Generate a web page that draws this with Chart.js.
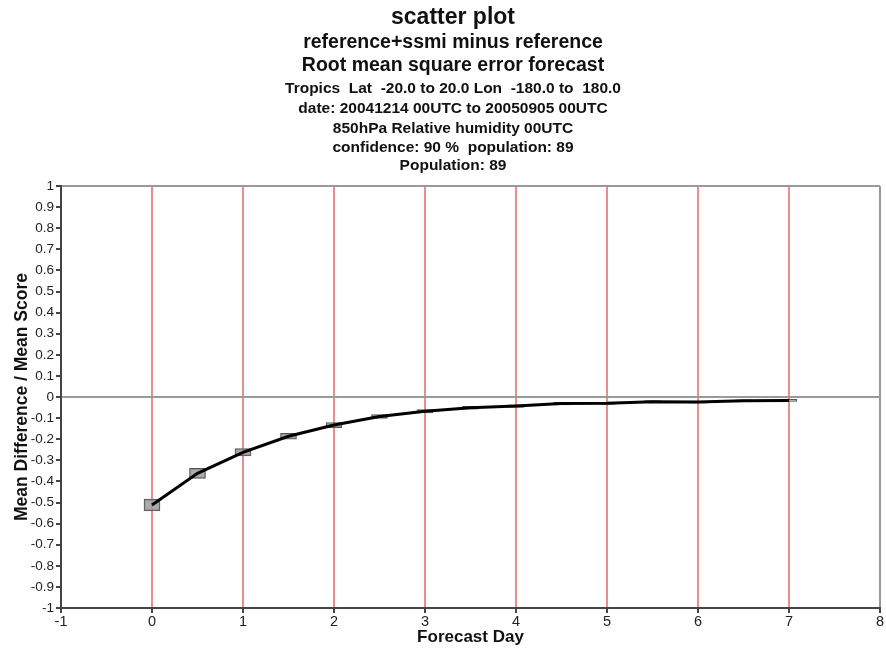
<!DOCTYPE html>
<html>
<head>
<meta charset="utf-8">
<script src="https://cdn.jsdelivr.net/npm/chart.js@4/dist/chart.umd.min.js"></script>
<style>
  html, body { margin: 0; padding: 0; background: #fff; }
  #wrap { width: 886px; height: 648px; }
</style>
</head>
<body>
<div id="wrap"><canvas id="c" width="886" height="648"></canvas></div>
<script>
'use strict';

// title lines
const titleLines = [
  'scatter plot',
  'reference+ssmi minus reference',
  'Root mean square error forecast',
  'Tropics  Lat  -20.0 to 20.0 Lon  -180.0 to  180.0',
  'date: 20041214 00UTC to 20050905 00UTC',
  '850hPa Relative humidity 00UTC',
  'confidence: 90 %  population: 89',
  'Population: 89'
];

// forecast days and mean differences
const forecastDays = [0, 0.5, 1, 1.5, 2, 2.5, 3, 3.5, 4, 4.5, 5, 5.5, 6, 6.5, 7];
const meanDiff = [-0.512, -0.362, -0.262, -0.186, -0.133, -0.092, -0.068, -0.051, -0.043, -0.031, -0.03, -0.022, -0.024, -0.018, -0.016];
// confidence half width (grey boxes)
const confHalf = [0.028, 0.024, 0.017, 0.014, 0.012, 0.009, 0.008, 0.007, 0.006, 0.006, 0.005, 0.005, 0.005, 0.005, 0.005];

const xTicks = [-1, 0, 1, 2, 3, 4, 5, 6, 7, 8];

const FONT = '"Liberation Sans", Arial, Helvetica, sans-serif';

const linePts = forecastDays.map((d, i) => ({ x: d, y: meanDiff[i] }));
const boxPts = forecastDays.map((d, i) => ({ x: d, y: [meanDiff[i] - confHalf[i], meanDiff[i] + confHalf[i]] }));

// draws the stacked title block above the plot
const titleBlock = {
  id: 'titleBlock',
  afterDraw(chart){
    const ctx = chart.ctx;
    const rows = [
      { y: 18, f: 'bold 23px' },
      { y: 43, f: 'bold 19.5px' },
      { y: 66, f: 'bold 19.5px' },
      { y: 89, f: 'bold 15.5px' },
      { y: 109, f: 'bold 15.5px' },
      { y: 129, f: 'bold 15.5px' },
      { y: 148, f: 'bold 15.5px' },
      { y: 166, f: 'bold 15.5px' }
    ];
    ctx.save();
    ctx.fillStyle = '#111';
    ctx.textAlign = 'center';
    ctx.textBaseline = 'middle';
    titleLines.forEach((t, i) => {
      ctx.font = rows[i].f + ' ' + FONT;
      ctx.fillText(t, 453, rows[i].y);
    });
    ctx.restore();
  }
};

const RED = 'rgba(225,80,80,0.65)';
// vertical lines: none at -1 (axis), red for days, grey frame at 8
const xGridColors = xTicks.map(v => v === 8 ? '#999' : (v === -1 ? 'rgba(0,0,0,0)' : RED));
const xGridWidths = xTicks.map(v => 2);

new Chart(document.getElementById('c'), {
  type: 'line',
  data: {
    datasets: [
      {
        type: 'line',
        data: linePts,
        borderColor: '#000',
        borderWidth: 3,
        pointRadius: 0,
        tension: 0,
        order: 0
      },
      {
        type: 'bar',
        data: boxPts,
        backgroundColor: 'rgba(150,150,150,0.8)',
        borderColor: '#555',
        borderWidth: 1,
        borderSkipped: false,
        barThickness: 16,
        order: 1
      }
    ]
  },
  options: {
    responsive: false,
    animation: false,
    layout: { padding: { top: 186, right: 6, left: 0, bottom: 0 } },
    plugins: { legend: { display: false }, tooltip: { enabled: false } },
    scales: {
      x: {
        type: 'linear',
        min: -1, max: 8,
        offset: false,
        afterFit: s => { s.height = 40; },
        afterBuildTicks: s => { s.ticks = xTicks.map(v => ({ value: v })); },
        grid: {
          offset: false,
          color: xGridColors,
          lineWidth: xGridWidths,
          tickColor: '#444',
          tickLength: 5
        },
        border: { color: '#444', width: 2 },
        ticks: { color: '#222', padding: 0, autoSkip: false, font: { family: FONT, size: 14.5 }, maxRotation: 0 },
        title: { display: true, text: 'Forecast Day', color: '#111', padding: 0, font: { family: FONT, size: 17, weight: 'bold' } }
      },
      y: {
        min: -1, max: 1,
        afterFit: s => { s.width = 61; },
        ticks: {
          stepSize: 0.1,
          color: '#222',
          padding: 2,
          font: { family: FONT, size: 13.5 },
          callback: v => String(Math.round(v * 10) / 10)
        },
        grid: {
          color: c => (c.tick && (Math.abs(c.tick.value) < 1e-9 || c.tick.value === 1)) ? '#999' : 'rgba(0,0,0,0)',
          lineWidth: 2,
          tickColor: '#444',
          tickLength: 5
        },
        border: { color: '#444', width: 2 },
        title: { display: true, text: 'Mean Difference / Mean Score', color: '#111', padding: { top: 12, bottom: 0 }, font: { family: FONT, size: 17.5, weight: 'bold' } }
      }
    }
  },
  plugins: [titleBlock]
});
</script>
</body>
</html>
